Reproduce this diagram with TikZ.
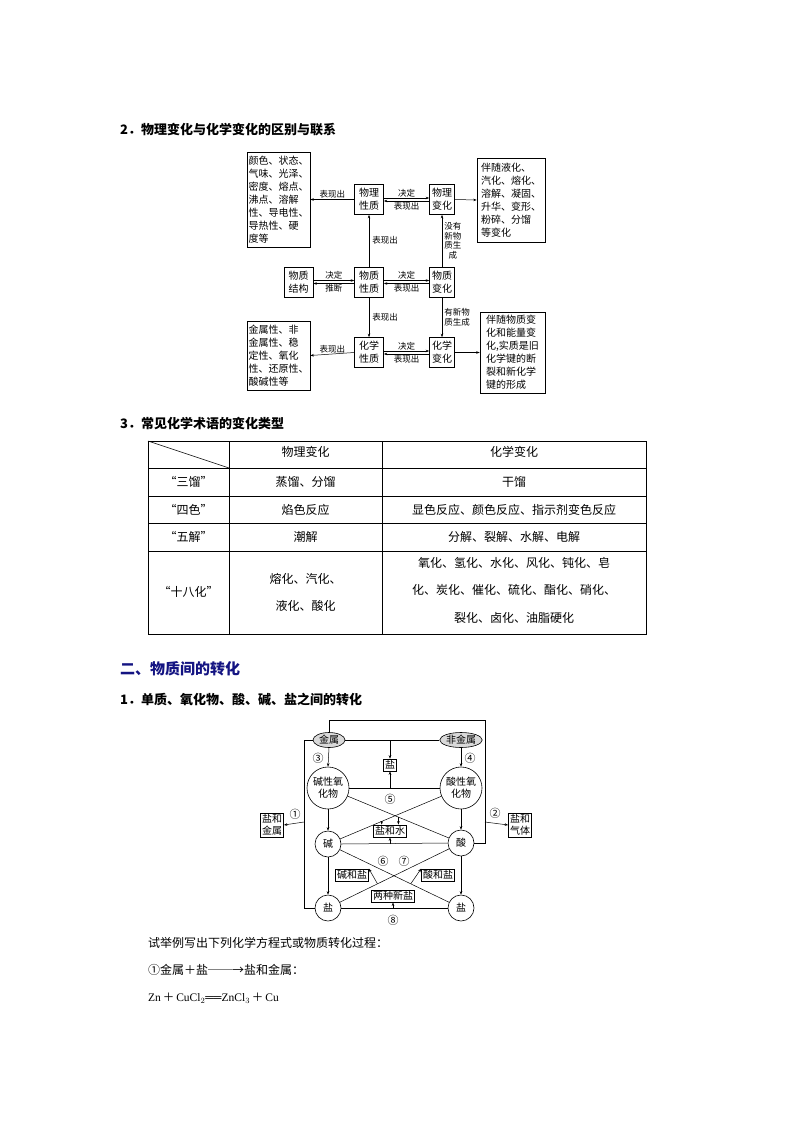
\documentclass[tikz,border=0pt]{standalone}
\usepackage{fontspec}
\setmainfont{Liberation Serif}
\newfontfamily\cjk{Noto Sans CJK SC}
\usetikzlibrary{arrows.meta,calc,shapes.geometric}
\begin{document}
\begin{tikzpicture}[x=1pt,y=-1pt,
  ar/.style={-{Stealth[length=3.5pt,width=2.5pt]},line width=0.5pt},
  ln/.style={line width=0.5pt},
  bx/.style={draw,line width=0.6pt,align=center,inner sep=1.5pt,font=\cjk\fontsize{10}{13}\selectfont},
  sb/.style={bx,minimum width=29pt,minimum height=30pt,inner sep=0pt},
  lb/.style={font=\cjk\fontsize{8.5}{10}\selectfont,inner sep=1pt,align=center},
  ci/.style={draw,circle,line width=0.6pt,align=center,inner sep=0pt,font=\cjk\fontsize{10}{12}\selectfont},
  bx2/.style={draw,line width=0.6pt,align=center,inner sep=1.5pt,font=\cjk\fontsize{10}{12}\selectfont},
  num/.style={font=\cjk\fontsize{11}{12}\selectfont,inner sep=0pt},
  hd/.style={anchor=west,font=\cjk\bfseries\fontsize{13}{15}\selectfont,inner sep=0pt},
  tx/.style={font=\cjk\fontsize{12}{14}\selectfont,inner sep=0pt}]
\useasboundingbox (0,0) rectangle (794,1123);
\fill[white] (0,0) rectangle (794,1123);
% headings
\node[hd] (h2) at (120,130) {2．物理变化与化学变化的区别与联系};
\node[hd] (h3) at (120,423) {3．常见化学术语的变化类型};
\node[hd,font=\cjk\bfseries\fontsize{15}{17}\selectfont,text={rgb,255:red,20;green,20;blue,130}] (h4) at (120,669) {二、物质间的转化};
\node[hd] (h5) at (120,700) {1．单质、氧化物、酸、碱、盐之间的转化};
% ---- diagram 1
\node[bx,minimum width=63pt,minimum height=95pt,inner sep=0pt,align=left] (lt) at (278.5,199.5) {颜色、状态、\\气味、光泽、\\密度、熔点、\\沸点、溶解\\性、导电性、\\导热性、硬\\度等};
\node[sb] (wlxz) at (369,199.5) {物理\\性质};
\node[sb,minimum width=25pt] (wlbh) at (442,199.5) {物理\\变化};
\node[bx,minimum width=68pt,minimum height=84pt,inner sep=0pt,align=left] (rt) at (511,200) {伴随液化、\\汽化、熔化、\\溶解、凝固、\\升华、变形、\\粉碎、分馏\\等变化};
\node[sb] (wzjg) at (298.5,282) {物质\\结构};
\node[sb] (wzxz) at (369,282) {物质\\性质};
\node[sb,minimum width=25pt] (wzbh) at (442,282) {物质\\变化};
\node[sb] (hxxz) at (369,352.5) {化学\\性质};
\node[sb,minimum width=25pt] (hxbh) at (442,352.5) {化学\\变化};
\node[bx,minimum width=63pt,minimum height=69pt,inner sep=0pt,align=left] (lb) at (278.5,355.5) {金属性、非\\金属性、稳\\定性、氧化\\性、还原性、\\酸碱性等};
\node[bx,minimum width=65pt,minimum height=81pt,inner sep=0pt,align=left] (rb) at (512.5,352.5) {伴随物质变\\化和能量变\\化,实质是旧\\化学键的断\\裂和新化学\\键的形成};
\draw[ar] (wlxz.west) -- (lt.east) node[lb,midway,above] {表现出};
\draw[ar] (hxxz.west) -- (lb.east) node[lb,midway,above] {表现出};
\draw[ar] (wlbh.east) -- (rt.west);
\draw[ar] (hxbh.east) -- (rb.west);
\foreach \a/\b in {wlxz/wlbh,wzxz/wzbh,hxxz/hxbh}{
  \draw[ar] ([yshift=1.5pt]\a.east) -- ([yshift=1.5pt]\b.west) node[lb,midway,above] {决定};
  \draw[ar] ([yshift=-1.5pt]\b.west) -- ([yshift=-1.5pt]\a.east) node[lb,midway,below] {表现出};
}
\draw[ar] ([yshift=1.5pt]wzjg.east) -- ([yshift=1.5pt]wzxz.west) node[lb,midway,above] {决定};
\draw[ar] ([yshift=-1.5pt]wzxz.west) -- ([yshift=-1.5pt]wzjg.east) node[lb,midway,below] {推断};
\draw[ar] (wzxz.north) -- (wlxz.south) node[lb,midway,right=2pt] {表现出};
\draw[ar] (wzxz.south) -- (hxxz.north) node[lb,midway,right=2pt] {表现出};
\draw[ar] (wzbh.north) -- (wlbh.south) node[lb,midway,right=1pt,font=\cjk\fontsize{8.5}{9.5}\selectfont] {没有\\新物\\质生\\成};
\draw[ar] (wzbh.south) -- (hxbh.north) node[lb,midway,right=1pt,font=\cjk\fontsize{8.5}{9.5}\selectfont] {有新物\\质生成};
% ---- table
\begin{scope}[line width=0.7pt]
\draw (148,441) rectangle (646,634);
\foreach \yy in {468,496,523,551}{\draw (148,\yy) -- (646,\yy);}
\draw (229,441) -- (229,634);
\draw (382,441) -- (382,634);
\draw[line width=0.5pt] (148,441) -- (229,468);
\end{scope}
\node[tx] (c01) at (305.5,452) {物理变化};
\node[tx] (c02) at (514,452) {化学变化};
\node[tx] (c10) at (188.5,482) {“三馏”};
\node[tx] (c11) at (305.5,482) {蒸馏、分馏};
\node[tx] (c12) at (514,482) {干馏};
\node[tx] (c20) at (188.5,509.5) {“四色”};
\node[tx] (c21) at (305.5,509.5) {焰色反应};
\node[tx] (c22) at (514,509.5) {显色反应、颜色反应、指示剂变色反应};
\node[tx] (c30) at (188.5,537) {“五解”};
\node[tx] (c31) at (305.5,537) {潮解};
\node[tx] (c32) at (514,537) {分解、裂解、水解、电解};
\node[tx] (c40) at (188.5,592) {“十八化”};
\node[tx,align=center,font=\cjk\fontsize{12}{27}\selectfont] (c41) at (305.5,592) {熔化、汽化、\\液化、酸化};
\node[tx,align=center,font=\cjk\fontsize{12}{27.5}\selectfont] (c42) at (514,590) {氧化、氢化、水化、风化、钝化、皂\\化、炭化、催化、硫化、酯化、硝化、\\裂化、卤化、油脂硬化};
% ---- diagram 2
\node[ellipse,draw,fill=gray!30,line width=0.6pt,minimum width=32pt,minimum height=15pt,inner sep=0pt,font=\cjk\fontsize{10}{12}\selectfont] (js) at (329,740) {金属};
\node[ellipse,draw,fill=gray!30,line width=0.6pt,minimum width=34pt,minimum height=15pt,inner sep=0pt,font=\cjk\fontsize{10}{12}\selectfont] (fjs) at (461,740) {非金属};
\node[bx2] (yanT) at (390,765) {盐};
\node[ci,minimum size=42pt] (jx) at (328,788) {碱性氧\\化物};
\node[ci,minimum size=42pt] (sx) at (461,788) {酸性氧\\化物};
\node[ci,minimum size=26pt] (jian) at (328,844) {碱};
\node[ci,minimum size=26pt] (suan) at (461,843) {酸};
\node[ci,minimum size=26pt] (yanL) at (328,908) {盐};
\node[ci,minimum size=26pt] (yanR) at (461,908) {盐};
\node[bx2] (yhs) at (390,831) {盐和水};
\node[bx2] (jhy) at (352,875) {碱和盐};
\node[bx2] (shy) at (438,875) {酸和盐};
\node[bx2] (lzxy) at (393,896) {两种新盐};
\node[bx2] (yhjs) at (272,825) {盐和\\金属};
\node[bx2] (yhqt) at (520,825) {盐和\\气体};
\node[num] (n1) at (295,814) {①};
\node[num] (n2) at (495,813) {②};
\node[num] (n3) at (318,758) {③};
\node[num] (n4) at (470,758) {④};
\node[num] (n5) at (390,799) {⑤};
\node[num] (n6) at (383,861) {⑥};
\node[num] (n7) at (404,861) {⑦};
\node[num] (n8) at (393,920) {⑧};
\draw[ln] (js.north) |- (485,720) |- (suan.east);
\draw[ar] (485,822) -- (yhqt.west);
\draw[ln] (js.west) -| (304,908) -- (yanL.west);
\draw[ar] (304,822) -- (yhjs.east);
\draw[ln] (js.east) -- (fjs.west);
\draw[ar] (390,740) -- (yanT.north);
\draw[ln] (jx.east) -- (sx.west);
\draw[ar] (390,788) -- (yanT.south);
\draw[ar] (js.south) -- (jx.north);
\draw[ar] (fjs.south) -- (sx.north);
\draw[ar] (jx.south) -- (jian.north);
\draw[ar] (sx.south) -- (suan.north);
\draw[ar] (jian.south) -- (yanL.north);
\draw[ar] (suan.south) -- (yanR.north);
\draw[ln] (jian.east) -- (suan.west);
\draw[ar] (390,844) -- (yhs.south);
\draw[ln] (yanL.east) -- (yanR.west);
\draw[ar] (393,908) -- (lzxy.south);
\draw[ln] (jx) -- (suan);
\draw[ln] (sx) -- (jian);
\coordinate (X1) at (intersection of jx--suan and sx--jian);
\coordinate (p1) at ($(X1)!0.2!(jian)$);
\coordinate (p2) at ($(X1)!0.05!(suan)$);
\draw[ar] (p1) -- (p1 |- yhs.north);
\draw[ar] (p2) -- (p2 |- yhs.north);
\draw[ln] (jian) -- (yanR);
\draw[ln] (suan) -- (yanL);
\coordinate (X2) at (intersection of jian--yanR and suan--yanL);
\coordinate (q1) at ($(X2)!0.25!(yanL)$);
\coordinate (q2) at ($(X2)!0.25!(yanR)$);
\draw[ar] (q1) -- (jhy.north east);
\draw[ar] (q2) -- (shy.north west);
% ---- bottom text
\node[tx,anchor=west] (t1) at (148,943) {试举例写出下列化学方程式或物质转化过程：};
\node[tx,anchor=west] (t2) at (148,970) {①金属＋盐──→盐和金属：};
\node[anchor=west,inner sep=0pt,font=\fontsize{11.5}{13}\selectfont] (t3) at (148,998) {Zn\,{\cjk ＋}\,CuCl$_2$══ZnCl$_3$\,{\cjk ＋}\,Cu};
\end{tikzpicture}
\end{document}
